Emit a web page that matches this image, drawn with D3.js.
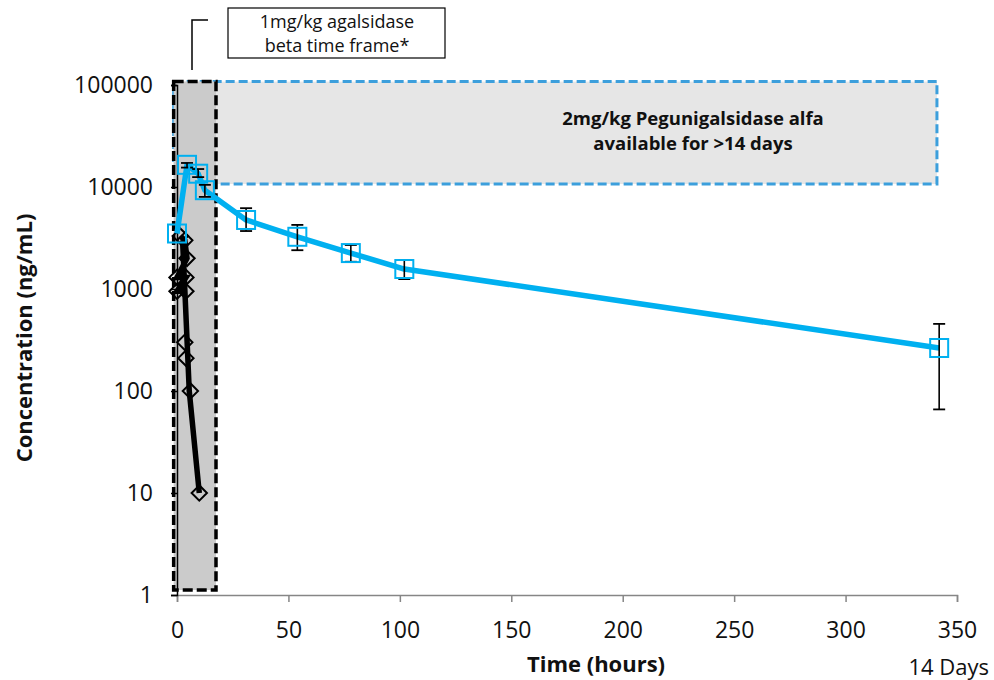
<!DOCTYPE html>
<html>
<head>
<meta charset="utf-8">
<script src="https://cdn.jsdelivr.net/npm/d3@7"></script>
<style>
  html, body { margin: 0; padding: 0; background: #fff; }
  svg { display: block; font-family: "Open Sans", "Noto Sans", sans-serif; }
</style>
</head>
<body>
<svg id="chart" width="994" height="680"></svg>
<script>
// ---- data ----
const xTicks = [0, 50, 100, 150, 200, 250, 300, 350];
const yTicks = [1, 10, 100, 1000, 10000, 100000];

// Pegunigalsidase alfa (blue) mean concentrations with error bars
const pegTime  = [0, 4.5, 9.5, 12.5, 31, 54, 78, 102, 342];
const pegConc  = [3500, 16500, 13500, 9300, 4750, 3250, 2250, 1570, 264];
const pegLow   = [null, 15500, 12500, 8000, 3700, 2400, 1850, 1250, 66];
const pegHigh  = [null, 17200, 15000, 10500, 6200, 4250, 2700, 1930, 455];

// agalsidase beta (black) individual concentrations
const agalTime = [1.5, 3.5, 4.5, 0, 4, 0, 4, 3.5, 4, 6, 10];
const agalConc = [3300, 3000, 2000, 1300, 1300, 950, 950, 300, 210, 100, 10];
// agalsidase beta mean profile line
const agalLineTime = [2.5, 3.5, 5.5, 10];
const agalLineConc = [3000, 1000, 100, 10];

// annotated time frames
const agalFrameTime = [-1.5, 17.5];
const pegFrameTime  = [-1.5, 341];
const frameConc     = [10700, 108000];

// ---- chart ----
const svg = d3.select("#chart");
const x = d3.scaleLinear().domain([0, 350]).range([177, 957]);
const y = d3.scaleLog().domain([1, 100000]).range([595, 85]);

const BLUE = "#00b0f0";

// Pegunigalsidase frame (light gray, blue dashed)
svg.append("rect")
  .attr("x", x(pegFrameTime[0])).attr("y", y(frameConc[1]))
  .attr("width", x(pegFrameTime[1]) - x(pegFrameTime[0]))
  .attr("height", y(frameConc[0]) - y(frameConc[1]))
  .attr("fill", "#e6e6e6").attr("stroke", "#3c9fdc")
  .attr("stroke-width", 3).attr("stroke-dasharray", "9,4");

// agalsidase frame (darker gray, black dashed)
svg.append("rect")
  .attr("x", x(agalFrameTime[0])).attr("y", y(frameConc[1]))
  .attr("width", x(agalFrameTime[1]) - x(agalFrameTime[0]))
  .attr("height", y(1.12) - y(frameConc[1]))
  .attr("fill", "#cbcbcb").attr("stroke", "#000")
  .attr("stroke-width", 3.5).attr("stroke-dasharray", "10,4");

// frame text
[["2mg/kg Pegunigalsidase alfa", 125], ["available for >14 days", 150]].forEach(([s, yy]) => {
  svg.append("text").attr("text-anchor", "middle").attr("x", 693).attr("y", yy)
    .attr("font-weight", "bold").attr("font-size", 18.5).attr("fill", "#111").text(s);
});

// annotation box top
svg.append("rect").attr("x", 228).attr("y", 8).attr("width", 217).attr("height", 50)
  .attr("fill", "#fff").attr("stroke", "#000").attr("stroke-width", 1.2);
[["1mg/kg agalsidase", 28], ["beta time frame*", 52]].forEach(([s, yy]) => {
  svg.append("text").attr("text-anchor", "middle").attr("x", 337).attr("y", yy)
    .attr("font-size", 18).attr("fill", "#111").text(s);
});
svg.append("path").attr("d", "M192,70 V20 H208").attr("fill", "none")
  .attr("stroke", "#000").attr("stroke-width", 1.5);

// axes
const xAxis = svg.append("g").attr("transform", "translate(0,595)")
  .call(d3.axisBottom(x).tickValues(xTicks).tickSize(7).tickPadding(20).tickFormat(d3.format("d")));
xAxis.select(".domain").attr("stroke", "#868686").attr("stroke-width", 1.5);
xAxis.selectAll(".tick line").attr("stroke", "#868686").attr("stroke-width", 1.5);
xAxis.selectAll("text").attr("font-size", 23).attr("fill", "#111").attr("font-family", "Open Sans");

const yAxis = svg.append("g").attr("transform", "translate(177,0)")
  .call(d3.axisLeft(y).tickValues(yTicks).tickSize(6).tickPadding(18).tickFormat(d3.format("d")));
yAxis.select(".domain").attr("stroke", "#000").attr("stroke-width", 1.5);
yAxis.selectAll(".tick line").attr("stroke", "#000").attr("stroke-width", 1.5);
yAxis.selectAll("text").attr("font-size", 23).attr("fill", "#111").attr("font-family", "Open Sans");

// axis titles
svg.append("text").attr("x", 596).attr("y", 672).attr("text-anchor", "middle")
  .attr("font-weight", "bold").attr("font-size", 22).attr("fill", "#111").text("Time (hours)");
svg.append("text").attr("x", 989).attr("y", 675).attr("text-anchor", "end")
  .attr("font-size", 22).attr("fill", "#111").text("14 Days");
svg.append("text").attr("transform", "translate(32,338) rotate(-90)").attr("text-anchor", "middle")
  .attr("font-weight", "bold").attr("font-size", 22).attr("fill", "#111").text("Concentration (ng/mL)");

// agalsidase line + diamonds
const line = d3.line().x(d => x(d[0])).y(d => y(d[1]));
const agalLine = agalLineTime.map((t, i) => [t, agalLineConc[i]]);
svg.append("path").datum(agalLine).attr("d", line).attr("fill", "none")
  .attr("stroke", "#000").attr("stroke-width", 5.5);
const agalPts = agalTime.map((t, i) => [t, agalConc[i]]);
svg.append("path").datum(agalPts.slice(0, 7)).attr("d", line).attr("fill", "none")
  .attr("stroke", "#000").attr("stroke-width", 5.5);
svg.selectAll(".dia").data(agalPts).enter().append("path")
  .attr("transform", d => `translate(${x(d[0])},${y(d[1])})`)
  .attr("d", d3.symbol().type(d3.symbolDiamond2).size(150))
  .attr("fill", "none").attr("stroke", "#000").attr("stroke-width", 2);

// peg line
const peg = pegTime.map((t, i) => ({t, c: pegConc[i], lo: pegLow[i], hi: pegHigh[i]}));
svg.append("path").datum(peg.map(d => [d.t, d.c])).attr("d", line).attr("fill", "none")
  .attr("stroke", BLUE).attr("stroke-width", 5.5).attr("stroke-linejoin", "round");

// error bars
const eb = svg.selectAll(".eb").data(peg.filter(d => d.lo != null)).enter().append("g");
eb.append("line").attr("x1", d => x(d.t)).attr("x2", d => x(d.t))
  .attr("y1", d => y(d.lo)).attr("y2", d => y(d.hi)).attr("stroke", "#000").attr("stroke-width", 1.6);
eb.append("line").attr("x1", d => x(d.t) - 6).attr("x2", d => x(d.t) + 6)
  .attr("y1", d => y(d.lo)).attr("y2", d => y(d.lo)).attr("stroke", "#000").attr("stroke-width", 1.8);
eb.append("line").attr("x1", d => x(d.t) - 6).attr("x2", d => x(d.t) + 6)
  .attr("y1", d => y(d.hi)).attr("y2", d => y(d.hi)).attr("stroke", "#000").attr("stroke-width", 1.8);

// square markers
svg.selectAll(".sq").data(peg).enter().append("rect")
  .attr("x", d => x(d.t) - 9).attr("y", d => y(d.c) - 9)
  .attr("width", 18).attr("height", 18)
  .attr("fill", "none").attr("stroke", BLUE).attr("stroke-width", 2);
</script>
</body>
</html>
